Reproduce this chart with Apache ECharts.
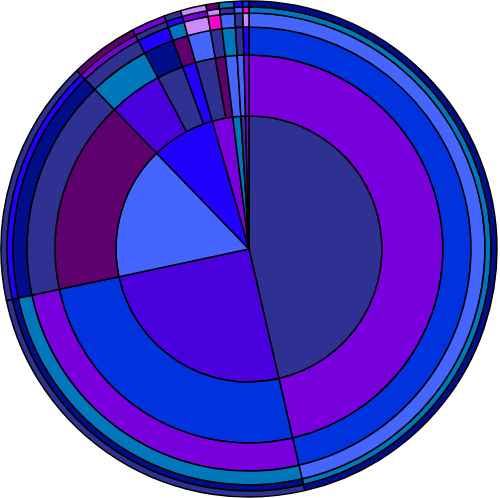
<!DOCTYPE html>
<html>
<head>
<meta charset="utf-8">
<script src="https://cdn.jsdelivr.net/npm/echarts@6/dist/echarts.min.js"></script>
<style>html,body{margin:0;padding:0;background:#fff}#chart{width:500px;height:498px}</style>
</head>
<body>
<div id="chart"></div>
<script>
// each level: parent index in previous level, value, colour
var l1Values = [167, 91, 58, 28, 9, 3.5, 2, 1.5];
var l1Colors = ["#2e3192", "#4a00dd", "#4466ff", "#2200ff", "#7700dd", "#0077bb", "#2e3192", "#7700dd"];

var l2Parent = [0, 1, 2, 3, 3, 3, 4, 4, 5, 6, 7];
var l2Values = [167, 91, 58, 16, 8, 4, 6, 3, 3.5, 2, 1.5];
var l2Colors = ["#7700dd", "#0033dd", "#5e006e", "#4a00dd", "#2e3192", "#2200ff", "#2e3192", "#5e006e", "#4466ff", "#4466ff", "#7700dd"];

var l3Parent = [0, 1, 2, 3, 4, 5, 6, 7, 8, 9, 10];
var l3Values = [167, 91, 58, 16, 8, 4, 6, 3, 3.5, 2, 1.5];
var l3Colors = ["#0033dd", "#7700dd", "#2e3192", "#0077bb", "#000e8a", "#5e006e", "#4466ff", "#2e3192", "#0077bb", "#2e3192", "#2200ff"];

var l4Parent = [0, 1, 2, 3, 4, 5, 6, 7, 8, 9, 10];
var l4Values = [167, 91, 58, 16, 8, 4, 6, 3, 3.5, 2, 1.5];
var l4Colors = ["#4466ff", "#0077bb", "#000e8a", "#2e3192", "#2200ff", "#0077bb", "#cc88ff", "#ff00cc", "#4466ff", "#2e3192", "#cc88ff"];

var l5Parent = [0, 1, 2, 3, 4, 5, 6, 7, 8, 9, 10];
var l5Values = [167, 91, 58, 16, 8, 4, 6, 3, 3.5, 2, 1.5];
var l5Colors = ["#0077bb", "#000e8a", "#2200ff", "#7700dd", "#2e3192", "#2200ff", "#7700dd", "#cc88ff", "#2e3192", "#4466ff", "#ff00cc"];

var l6Parent = [0, 1, 2, 3, 4, 5, 6, 7, 8, 9, 10];
var l6Values = [167, 91, 58, 16, 8, 4, 6, 3, 3.5, 2, 1.5];
var l6Colors = ["#000e8a", "#2e3192", "#2e3192", "#5e006e", "#7700dd", "#2e3192", "#cc88ff", "#5e006e", "#0077bb", "#2200ff", "#0033dd"];

function makeNodes(values, colors) {
    var out = [];
    for (var i = 0; i < values.length; i++) {
        out.push({ value: values[i], itemStyle: { color: colors[i] }, children: [] });
    }
    return out;
}
function attach(parents, childNodes, parentIdx) {
    for (var i = 0; i < childNodes.length; i++) {
        parents[parentIdx[i]].children.push(childNodes[i]);
    }
}
var n1 = makeNodes(l1Values, l1Colors);
var n2 = makeNodes(l2Values, l2Colors);
var n3 = makeNodes(l3Values, l3Colors);
var n4 = makeNodes(l4Values, l4Colors);
var n5 = makeNodes(l5Values, l5Colors);
var n6 = makeNodes(l6Values, l6Colors);
attach(n1, n2, l2Parent);
attach(n2, n3, l3Parent);
attach(n3, n4, l4Parent);
attach(n4, n5, l5Parent);
attach(n5, n6, l6Parent);

var myChart = echarts.init(document.getElementById("chart"));
myChart.setOption({
    animation: false,
    series: [{
        type: "sunburst",
        center: [249, 249],
        startAngle: 90,
        sort: null,
        nodeClick: false,
        data: n1,
        label: { show: false },
        itemStyle: { borderColor: "#000", borderWidth: 1.5 },
        emphasis: { disabled: true },
        levels: [
            {},
            { r0: 0, r: 133 },
            { r0: 133, r: 194 },
            { r0: 194, r: 222 },
            { r0: 222, r: 236 },
            { r0: 236, r: 242 },
            { r0: 242, r: 248 }
        ]
    }]
});
</script>
</body>
</html>
